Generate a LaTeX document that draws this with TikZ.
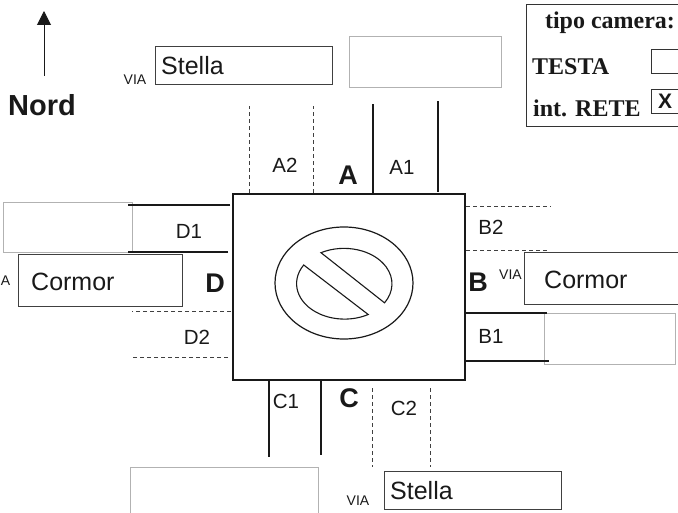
\documentclass[tikz,border=0pt]{standalone}
\usepackage{fontspec}
\setmainfont{Liberation Serif}
\setsansfont{Liberation Sans}
\usepackage{tikz}
\usetikzlibrary{positioning, arrows.meta, calc, shapes.geometric}

\begin{document}
\begin{tikzpicture}[
    x=1pt, y=-1pt,
    every node/.style={font=\sffamily, text=black!90, inner sep=0pt},
    streetbox/.style={draw=black!75, line width=1pt, anchor=north west},
    emptybox/.style={draw=black!30, line width=0.8pt, anchor=north west},
    solidlane/.style={line width=1.4pt, black!90},
    dashlane/.style={line width=0.7pt, black!75, dash pattern=on 4pt off 3pt},
    lanelabel/.style={font=\sffamily\fontsize{20.5}{22}\selectfont},
    sidelabel/.style={font=\sffamily\bfseries\fontsize{27}{29}\selectfont},
    vialabel/.style={font=\sffamily\fontsize{14}{15}\selectfont},
    namelabel/.style={font=\sffamily\fontsize{25}{27}\selectfont, anchor=west},
    serifbold/.style={font=\rmfamily\bfseries\fontsize{24}{26}\selectfont},
]
\useasboundingbox (0,0) rectangle (678,513);

% incrocio
\node[draw=black!90, line width=2pt, minimum width=232pt, minimum height=185pt, anchor=north west] (cross) at (231.5,193.5) {};
\node[draw=black!90, line width=1.2pt, ellipse, minimum width=138pt, minimum height=112pt] (ring) at (344,283) {};
\draw[black!90, line width=1.1pt]
    (303.7,265) arc[start angle=148.4, end angle=299.5, x radius=48pt, y radius=35.5pt] -- cycle;
\draw[black!90, line width=1.1pt]
    (321,252.7) arc[start angle=118.6, end angle=-32.3, x radius=48pt, y radius=35.5pt] -- cycle;

% riquadri strade
\node[streetbox, minimum width=177pt, minimum height=38pt] (stellaN) at (155,46) {};
\node[namelabel] at (161,66) {Stella};
\node[vialabel] (viaN) at (135,80) {VIA};
\node[emptybox, minimum width=152pt, minimum height=51pt] (emptyN) at (349,36) {};

\node[emptybox, minimum width=129pt, minimum height=50pt] (emptyW) at (3,202) {};
\node[streetbox, minimum width=164pt, minimum height=52pt] (cormorW) at (18,254.5) {};
\node[namelabel] at (31,282) {Cormor};
\node[vialabel, anchor=east] (viaW) at (10.5,281) {VIA};

\node[streetbox, minimum width=170pt, minimum height=52pt] (cormorE) at (524,252) {};
\node[namelabel] at (544,280) {Cormor};
\node[vialabel] (viaE) at (510.5,275) {VIA};
\node[emptybox, minimum width=131pt, minimum height=51pt] (emptyE) at (543.5,313) {};

\node[emptybox, minimum width=188pt, minimum height=60pt] (emptyS) at (130,467) {};
\node[streetbox, minimum width=177pt, minimum height=38pt] (stellaS) at (383.5,471) {};
\node[namelabel] at (390,491) {Stella};
\node[vialabel] (viaS) at (358,501) {VIA};

% corsie
\coordinate (a1a) at (373,194); \coordinate (a1b) at (373,104);
\coordinate (a1c) at (438,192); \coordinate (a1d) at (438,101);
\draw[solidlane] (a1a) -- (a1b);
\draw[solidlane] (a1c) -- (a1d);
\coordinate (a2a) at (249.5,193); \coordinate (a2b) at (249.5,106);
\coordinate (a2c) at (313,193); \coordinate (a2d) at (313,106);
\draw[dashlane] (a2a) -- (a2b);
\draw[dashlane] (a2c) -- (a2d);

\coordinate (b1a) at (466,313); \coordinate (b1b) at (547,313);
\coordinate (b1c) at (466,361); \coordinate (b1d) at (549,361);
\draw[solidlane] (b1a) -- (b1b);
\draw[solidlane] (b1c) -- (b1d);
\coordinate (b2a) at (466,206); \coordinate (b2b) at (551,206);
\coordinate (b2c) at (466,250); \coordinate (b2d) at (547,250);
\draw[dashlane] (b2a) -- (b2b);
\draw[dashlane] (b2c) -- (b2d);

\coordinate (c1a) at (269,380); \coordinate (c1b) at (269,457);
\coordinate (c1c) at (321,380); \coordinate (c1d) at (321,455);
\draw[solidlane] (c1a) -- (c1b);
\draw[solidlane] (c1c) -- (c1d);
\coordinate (c2a) at (372,388); \coordinate (c2b) at (372,467);
\coordinate (c2c) at (430,388); \coordinate (c2d) at (430,467);
\draw[dashlane] (c2a) -- (c2b);
\draw[dashlane] (c2c) -- (c2d);

\coordinate (d1a) at (230,205); \coordinate (d1b) at (128,205);
\coordinate (d1c) at (228,252); \coordinate (d1d) at (128,252);
\draw[solidlane] (d1a) -- (d1b);
\draw[solidlane] (d1c) -- (d1d);
\coordinate (d2a) at (231,311.5); \coordinate (d2b) at (132,311.5);
\coordinate (d2c) at (228,357); \coordinate (d2d) at (132,357);
\draw[dashlane] (d2a) -- (d2b);
\draw[dashlane] (d2c) -- (d2d);

% etichette
\node[lanelabel] (labA1) at (402,167) {A1};
\node[lanelabel] (labA2) at (285,165) {A2};
\node[lanelabel] (labB1) at (491,336) {B1};
\node[lanelabel] (labB2) at (491,227) {B2};
\node[lanelabel] (labC1) at (286,401) {C1};
\node[lanelabel] (labC2) at (404,408) {C2};
\node[lanelabel] (labD1) at (189,231) {D1};
\node[lanelabel] (labD2) at (197,337) {D2};
\node[sidelabel] (labA) at (348,175) {A};
\node[sidelabel] (labB) at (478,282) {B};
\node[sidelabel] (labC) at (349,398) {C};
\node[sidelabel] (labD) at (215,283) {D};

% nord
\node[font=\sffamily\bfseries\fontsize{29}{31}\selectfont] (nord) at (42,105) {Nord};
\coordinate (nordtail) at (44,76);
\coordinate (nordtip) at (44,11);
\draw[-{Triangle[length=14pt, width=14pt]}, line width=1pt, black!90] (nordtail) -- (nordtip);

% tipo camera
\node[draw=black!80, line width=1pt, minimum width=160pt, minimum height=122pt, anchor=north west] (legend) at (526,4) {};
\node[serifbold] (tipo) at (610,23) {tipo camera:};
\node[serifbold, anchor=west] (testa) at (532,67) {TESTA};
\node[serifbold, anchor=west] (rete) at (533,108) {int. RETE};
\node[draw=black!80, line width=0.9pt, minimum width=40pt, minimum height=24pt, anchor=north west] (boxT) at (651,49) {};
\node[draw=black!80, line width=0.9pt, minimum width=40pt, minimum height=24pt, anchor=north west] (boxR) at (651,89.5) {};
\node[font=\sffamily\bfseries\fontsize{21}{22}\selectfont] (markX) at (665,101) {X};
\end{tikzpicture}
\end{document}
